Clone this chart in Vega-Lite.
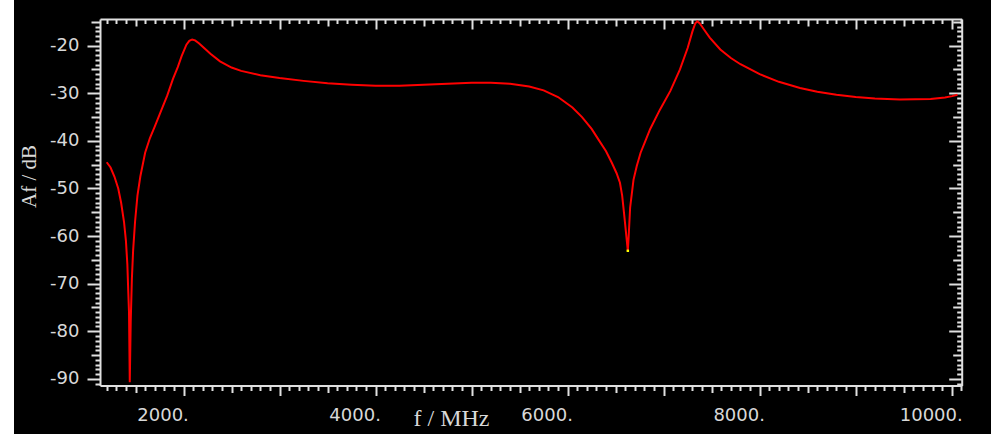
{
  "$schema": "https://vega.github.io/schema/vega-lite/v6.json",
  "width": 861.7,
  "height": 366.5,
  "autosize": {"type": "none"},
  "padding": {"left": 100, "top": 19, "right": 29.3, "bottom": 48.5},
  "background": "white",
  "view": {"fill": "black", "stroke": "black", "strokeWidth": 172},
  "config": {
    "axis": {
      "grid": false,
      "zindex": 1,
      "domainColor": "#e0e0e0",
      "domainWidth": 2,
      "tickColor": "#e0e0e0",
      "tickWidth": 2,
      "labelFont": "DejaVu Sans",
      "labelFontSize": 18,
      "labelColor": "#d8d8d8",
      "labelOverlap": false,
      "labelFlush": false,
      "labelBound": false,
      "titleFont": "Liberation Serif",
      "titleFontWeight": "normal",
      "titleColor": "#d8d8d8"
    }
  },
  "layer": [
    {
      "data": {"values": [
        {"f": 1200, "af": -44.5}, {"f": 1240, "af": -45.6}, {"f": 1280, "af": -47.5}, {"f": 1320, "af": -50.0},
        {"f": 1350, "af": -53.0}, {"f": 1380, "af": -57.0}, {"f": 1400, "af": -61.0}, {"f": 1415, "af": -66.0},
        {"f": 1425, "af": -72.0}, {"f": 1432, "af": -76.0}, {"f": 1440, "af": -90.7}, {"f": 1450, "af": -78.0},
        {"f": 1462, "af": -69.0}, {"f": 1475, "af": -63.0}, {"f": 1495, "af": -57.0}, {"f": 1520, "af": -51.5},
        {"f": 1550, "af": -47.5}, {"f": 1600, "af": -42.5}, {"f": 1650, "af": -39.4}, {"f": 1700, "af": -37.0},
        {"f": 1770, "af": -33.5}, {"f": 1830, "af": -30.5}, {"f": 1890, "af": -27.0}, {"f": 1940, "af": -24.5},
        {"f": 1980, "af": -22.2}, {"f": 2030, "af": -19.8}, {"f": 2060, "af": -19.0}, {"f": 2090, "af": -18.7},
        {"f": 2120, "af": -18.9}, {"f": 2160, "af": -19.5}, {"f": 2220, "af": -20.6}, {"f": 2280, "af": -21.7},
        {"f": 2380, "af": -23.3}, {"f": 2500, "af": -24.6}, {"f": 2600, "af": -25.3}, {"f": 2800, "af": -26.2},
        {"f": 3000, "af": -26.8}, {"f": 3250, "af": -27.4}, {"f": 3500, "af": -27.9}, {"f": 3750, "af": -28.2},
        {"f": 4000, "af": -28.4}, {"f": 4250, "af": -28.4}, {"f": 4500, "af": -28.2}, {"f": 4750, "af": -28.0},
        {"f": 5000, "af": -27.8}, {"f": 5200, "af": -27.8}, {"f": 5400, "af": -28.0}, {"f": 5600, "af": -28.6},
        {"f": 5750, "af": -29.4}, {"f": 5900, "af": -30.8}, {"f": 6050, "af": -33.0}, {"f": 6150, "af": -35.0},
        {"f": 6250, "af": -37.5}, {"f": 6330, "af": -40.0}, {"f": 6400, "af": -42.2}, {"f": 6460, "af": -44.6},
        {"f": 6510, "af": -46.8}, {"f": 6545, "af": -48.8}, {"f": 6568, "af": -51.5}, {"f": 6589, "af": -55.5},
        {"f": 6609, "af": -59.5}, {"f": 6627, "af": -63.1}, {"f": 6636, "af": -60.0}, {"f": 6651, "af": -54.0},
        {"f": 6686, "af": -48.2}, {"f": 6720, "af": -45.3}, {"f": 6760, "af": -42.5}, {"f": 6810, "af": -40.0},
        {"f": 6860, "af": -37.5}, {"f": 6960, "af": -33.5}, {"f": 7070, "af": -29.5}, {"f": 7170, "af": -25.0},
        {"f": 7250, "af": -20.5}, {"f": 7300, "af": -17.0}, {"f": 7330, "af": -15.3}, {"f": 7350, "af": -14.9},
        {"f": 7375, "af": -15.3}, {"f": 7420, "af": -16.6}, {"f": 7480, "af": -18.3}, {"f": 7590, "af": -20.8},
        {"f": 7700, "af": -22.6}, {"f": 7800, "af": -23.9}, {"f": 8000, "af": -26.0}, {"f": 8200, "af": -27.6},
        {"f": 8420, "af": -28.9}, {"f": 8600, "af": -29.7}, {"f": 8800, "af": -30.3}, {"f": 9000, "af": -30.8},
        {"f": 9200, "af": -31.1}, {"f": 9460, "af": -31.3}, {"f": 9780, "af": -31.2}, {"f": 9930, "af": -30.9},
        {"f": 10005, "af": -30.6}, {"f": 10060, "af": -30.3}
      ]},
      "mark": {"type": "line", "color": "#ff0000", "strokeWidth": 2, "clip": true},
      "encoding": {
        "x": {
          "field": "f", "type": "quantitative",
          "scale": {"domain": [1130, 10104], "nice": false, "zero": false},
          "axis": {
            "orient": "bottom",
            "tickCount": 90,
            "tickSize": {"expr": "datum.value % 1000 === 0 ? 10 : datum.value % 500 === 0 ? 7 : 5"},
            "labelExpr": "datum.value % 2000 === 0 ? datum.value + '.' : ''",
            "labelBaseline": "alphabetic",
            "labelPadding": 24.5,
            "labelOffset": -21,
            "title": "f / MHz",
            "titleFontSize": 24,
            "titleX": 351,
            "titleY": 40,
            "titleAlign": "center",
            "titleBaseline": "alphabetic"
          }
        },
        "y": {
          "field": "af", "type": "quantitative",
          "scale": {"domain": [-91.4, -14.4], "nice": false, "zero": false},
          "axis": {
            "orient": "left",
            "tickCount": 77,
            "tickSize": {"expr": "datum.value % 10 === 0 ? 13 : datum.value % 5 === 0 ? 9 : 5"},
            "labelExpr": "datum.value % 10 === 0 ? '' + datum.value : ''",
            "labelPadding": 8,
            "labelBaseline": "middle",
            "title": "Af / dB",
            "titleFontSize": 21,
            "titleAngle": 270,
            "titleX": -71,
            "titleY": 157,
            "titleAlign": "center",
            "titleBaseline": "middle"
          }
        }
      }
    },
    {
      "data": {"values": [{"f": 6627, "af": -63.1}]},
      "mark": {"type": "point", "shape": "square", "filled": true, "color": "#ffff00", "size": 6, "opacity": 1},
      "encoding": {
        "x": {
          "field": "f", "type": "quantitative",
          "scale": {"domain": [1130, 10104], "nice": false, "zero": false},
          "axis": {
            "orient": "top",
            "tickCount": 90,
            "tickSize": {"expr": "datum.value % 1000 === 0 ? -10 : datum.value % 500 === 0 ? -7 : -4.5"},
            "labels": false,
            "title": null
          }
        },
        "y": {
          "field": "af", "type": "quantitative",
          "scale": {"domain": [-91.4, -14.4], "nice": false, "zero": false},
          "axis": {
            "orient": "right",
            "tickCount": 77,
            "tickSize": {"expr": "datum.value % 10 === 0 ? -13 : datum.value % 5 === 0 ? -9 : -5"},
            "labels": false,
            "title": null
          }
        }
      }
    }
  ],
  "resolve": {"axis": {"x": "independent", "y": "independent"}}
}
